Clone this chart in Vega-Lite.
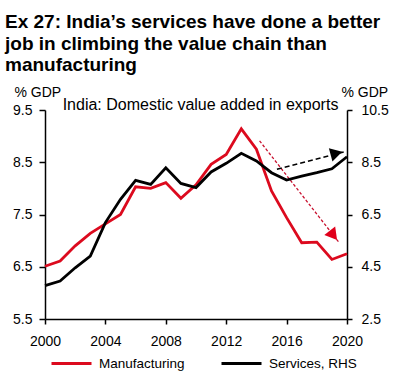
{
  "$schema": "https://vega.github.io/schema/vega-lite/v6.json",
  "autosize": {"type": "none"},
  "width": 302,
  "height": 209,
  "padding": {"left": 45, "top": 110, "right": 54, "bottom": 57},
  "background": "white",
  "title": {
    "text": ["Ex 27: India’s services have done a better", "job in climbing the value chain than", "manufacturing"],
    "anchor": "start",
    "frame": "group",
    "dx": -40,
    "offset": 10,
    "font": "Liberation Sans",
    "fontSize": 19,
    "fontWeight": "bold",
    "lineHeight": 21.5,
    "color": "#000000"
  },
  "datasets": {
    "mfg": [
      {"year": 2000, "series": "Manufacturing", "value": 6.51},
      {"year": 2001, "series": "Manufacturing", "value": 6.61},
      {"year": 2002, "series": "Manufacturing", "value": 6.9},
      {"year": 2003, "series": "Manufacturing", "value": 7.14},
      {"year": 2004, "series": "Manufacturing", "value": 7.32},
      {"year": 2005, "series": "Manufacturing", "value": 7.5},
      {"year": 2006, "series": "Manufacturing", "value": 8.03},
      {"year": 2007, "series": "Manufacturing", "value": 8.0},
      {"year": 2008, "series": "Manufacturing", "value": 8.11},
      {"year": 2009, "series": "Manufacturing", "value": 7.81},
      {"year": 2010, "series": "Manufacturing", "value": 8.07},
      {"year": 2011, "series": "Manufacturing", "value": 8.46},
      {"year": 2012, "series": "Manufacturing", "value": 8.65},
      {"year": 2013, "series": "Manufacturing", "value": 9.14},
      {"year": 2014, "series": "Manufacturing", "value": 8.75},
      {"year": 2015, "series": "Manufacturing", "value": 7.95},
      {"year": 2016, "series": "Manufacturing", "value": 7.44},
      {"year": 2017, "series": "Manufacturing", "value": 6.96},
      {"year": 2018, "series": "Manufacturing", "value": 6.97},
      {"year": 2019, "series": "Manufacturing", "value": 6.64},
      {"year": 2020, "series": "Manufacturing", "value": 6.75}
    ],
    "svc": [
      {"year": 2000, "series": "Services, RHS", "value": 3.78},
      {"year": 2001, "series": "Services, RHS", "value": 3.95},
      {"year": 2002, "series": "Services, RHS", "value": 4.46},
      {"year": 2003, "series": "Services, RHS", "value": 4.91},
      {"year": 2004, "series": "Services, RHS", "value": 6.19},
      {"year": 2005, "series": "Services, RHS", "value": 7.08},
      {"year": 2006, "series": "Services, RHS", "value": 7.81},
      {"year": 2007, "series": "Services, RHS", "value": 7.65},
      {"year": 2008, "series": "Services, RHS", "value": 8.29},
      {"year": 2009, "series": "Services, RHS", "value": 7.69},
      {"year": 2010, "series": "Services, RHS", "value": 7.53},
      {"year": 2011, "series": "Services, RHS", "value": 8.13},
      {"year": 2012, "series": "Services, RHS", "value": 8.46},
      {"year": 2013, "series": "Services, RHS", "value": 8.84},
      {"year": 2014, "series": "Services, RHS", "value": 8.55},
      {"year": 2015, "series": "Services, RHS", "value": 8.1},
      {"year": 2016, "series": "Services, RHS", "value": 7.82},
      {"year": 2017, "series": "Services, RHS", "value": 7.97},
      {"year": 2018, "series": "Services, RHS", "value": 8.1},
      {"year": 2019, "series": "Services, RHS", "value": 8.25},
      {"year": 2020, "series": "Services, RHS", "value": 8.71}
    ],
    "redArrow": [{"x1": 2014.21, "y1": 8.91, "x2": 2019.43, "y2": 6.98}],
    "redHead": [{"x": 2019.1, "y": 7.1}],
    "blackArrow": [{"x1": 2015.36, "y1": 8.23, "x2": 2019.78, "y2": 8.89}],
    "blackHead": [{"x": 2019.3, "y": 8.84}],
    "note": [{"label": "India: Domestic value added in exports", "x": 2010.3, "y": 9.5}]
  },
  "layer": [
    {
      "layer": [
        {
          "data": {"name": "mfg"},
          "mark": {"type": "line", "strokeWidth": 2.8},
          "encoding": {
            "x": {
              "field": "year", "type": "quantitative",
              "scale": {"domain": [2000, 2020], "nice": false, "zero": false},
              "axis": {"values": [2000, 2004, 2008, 2012, 2016, 2020], "format": "d", "title": null, "grid": false, "tickSize": 5, "labelPadding": 10, "labelFlush": false}
            },
            "y": {
              "field": "value", "type": "quantitative",
              "scale": {"domain": [5.5, 9.5], "nice": false, "zero": false},
              "axis": {"orient": "left", "values": [5.5, 6.5, 7.5, 8.5, 9.5], "format": ".1f", "grid": false, "tickSize": 6, "labelPadding": 7, "labelFlush": false,
                "title": "% GDP", "titleAngle": 0, "titleAlign": "left", "titleBaseline": "alphabetic", "titleX": -31, "titleY": -14,
                "titleFontWeight": "normal", "titleFontSize": 14}
            },
            "color": {
              "field": "series", "type": "nominal",
              "scale": {"domain": ["Manufacturing", "Services, RHS"], "range": ["#dc0a1e", "#000000"]},
              "legend": {"orient": "none", "legendX": 5, "legendY": 232, "direction": "horizontal", "title": null,
                "symbolType": "stroke", "symbolSize": 1600, "symbolStrokeWidth": 3, "labelFontSize": 13.5, "labelFont": "Liberation Sans",
                "labelOffset": 6, "columnPadding": 30, "labelColor": "#000000"}
            }
          }
        },
        {
          "data": {"name": "redArrow"},
          "mark": {"type": "rule", "color": "#c8102e", "strokeWidth": 1.3, "strokeDash": [3, 2]},
          "encoding": {
            "x": {"field": "x1", "type": "quantitative"},
            "y": {"field": "y1", "type": "quantitative"},
            "x2": {"field": "x2"},
            "y2": {"field": "y2"}
          }
        },
        {
          "data": {"name": "redHead"},
          "mark": {"type": "point", "shape": "triangle-up", "filled": true, "color": "#e0001b", "opacity": 1, "size": 190, "angle": 142},
          "encoding": {
            "x": {"field": "x", "type": "quantitative"},
            "y": {"field": "y", "type": "quantitative"}
          }
        },
        {
          "data": {"name": "note"},
          "mark": {"type": "text", "align": "center", "baseline": "alphabetic", "font": "Liberation Sans", "fontSize": 16, "color": "#000000"},
          "encoding": {
            "x": {"field": "x", "type": "quantitative"},
            "y": {"field": "y", "type": "quantitative"},
            "text": {"field": "label"}
          }
        }
      ]
    },
    {
      "layer": [
        {
          "data": {"name": "svc"},
          "mark": {"type": "line", "strokeWidth": 2.8},
          "encoding": {
            "x": {"field": "year", "type": "quantitative"},
            "y": {
              "field": "value", "type": "quantitative",
              "scale": {"domain": [2.5, 10.5], "nice": false, "zero": false},
              "axis": {"orient": "right", "values": [2.5, 4.5, 6.5, 8.5, 10.5], "format": ".1f", "grid": false, "tickSize": 5, "labelPadding": 9, "labelFlush": false,
                "title": "% GDP", "titleAngle": 0, "titleAlign": "left", "titleBaseline": "alphabetic", "titleX": -6, "titleY": -14,
                "titleFontWeight": "normal", "titleFontSize": 14}
            },
            "color": {"field": "series", "type": "nominal"}
          }
        },
        {
          "data": {"name": "blackArrow"},
          "mark": {"type": "rule", "color": "#000000", "strokeWidth": 1.5, "strokeDash": [5, 3]},
          "encoding": {
            "x": {"field": "x1", "type": "quantitative"},
            "y": {"field": "y1", "type": "quantitative"},
            "x2": {"field": "x2"},
            "y2": {"field": "y2"}
          }
        },
        {
          "data": {"name": "blackHead"},
          "mark": {"type": "point", "shape": "triangle-up", "filled": true, "color": "#000000", "opacity": 1, "size": 190, "angle": 75},
          "encoding": {
            "x": {"field": "x", "type": "quantitative"},
            "y": {"field": "y", "type": "quantitative"}
          }
        }
      ]
    }
  ],
  "resolve": {"scale": {"y": "independent"}},
  "config": {
    "view": {"stroke": null},
    "font": "Liberation Sans",
    "axis": {
      "labelFont": "Liberation Sans", "labelFontSize": 14, "labelColor": "#000000",
      "titleFont": "Liberation Sans", "titleColor": "#000000",
      "domainColor": "#000000", "domainWidth": 1.5, "tickColor": "#000000", "tickWidth": 1.5
    }
  }
}
